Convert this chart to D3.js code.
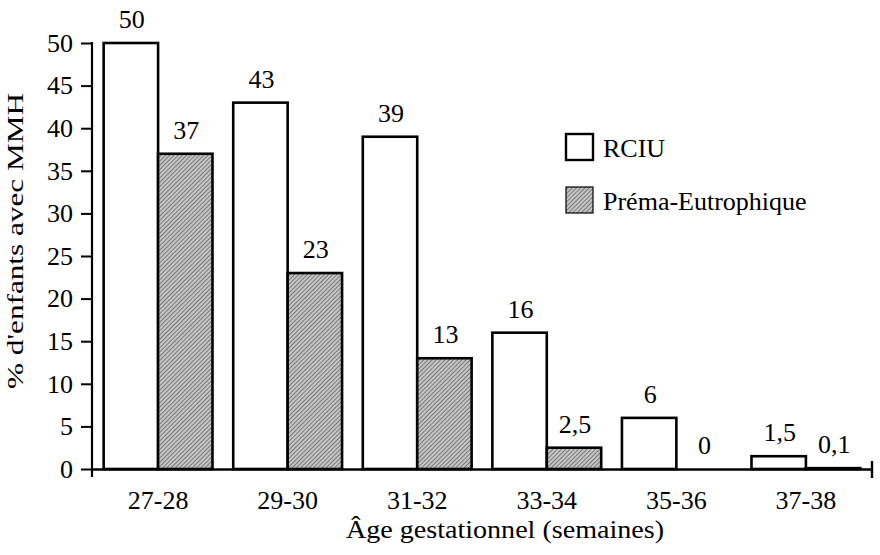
<!DOCTYPE html>
<html>
<head>
<meta charset="utf-8">
<script src="https://cdn.jsdelivr.net/npm/d3@7"></script>
<style>
  html, body { margin: 0; padding: 0; background: #fff; }
  svg { display: block; }
</style>
</head>
<body>
<div id="chart"></div>
<script>
const categories = ["27-28", "29-30", "31-32", "33-34", "35-36", "37-38"];
const rciuValues = [50, 43, 39, 16, 6, 1.5];
const premaValues = [37, 23, 13, 2.5, 0, 0.1];
const seriesNames = ["RCIU", "Préma-Eutrophique"];
const yTicks = [0, 5, 10, 15, 20, 25, 30, 35, 40, 45, 50];
const xTitle = "Âge gestationnel (semaines)";
const yTitle = "% d'enfants avec MMH";

const FONT = '"Liberation Serif"';
const W = 880, H = 555;
const svg = d3.select("#chart").append("svg").attr("width", W).attr("height", H);

const defs = svg.append("defs");
const pat = defs.append("pattern")
  .attr("id", "hatch").attr("patternUnits", "userSpaceOnUse")
  .attr("width", 3).attr("height", 3)
  .attr("patternTransform", "rotate(45)");
pat.append("rect").attr("width", 3).attr("height", 3).attr("fill", "#c6c6c6");
pat.append("rect").attr("width", 1).attr("height", 3).attr("fill", "#777");

const x0 = d3.scaleBand().domain(categories).range([92, 872])
  .paddingInner(0.16).paddingOuter(0.09);
const x1 = d3.scaleBand().domain(seriesNames).range([0, x0.bandwidth()]);
const y = d3.scaleLinear().domain([0, 50]).range([469, 43]);
const color = { "RCIU": "#ffffff", "Préma-Eutrophique": "url(#hatch)" };

const fmt = v => String(v).replace(".", ",");

const data = categories.map((c, i) => ({
  cat: c,
  vals: [
    { s: seriesNames[0], v: rciuValues[i] },
    { s: seriesNames[1], v: premaValues[i] }
  ]
}));

// bars
const g = svg.append("g");
const groups = g.selectAll("g.grp").data(data).join("g")
  .attr("class", "grp")
  .attr("transform", d => `translate(${x0(d.cat)},0)`);

groups.selectAll("rect").data(d => d.vals.filter(e => e.v > 0)).join("rect")
  .attr("x", e => x1(e.s))
  .attr("y", e => y(e.v))
  .attr("width", x1.bandwidth())
  .attr("height", e => y(0) - y(e.v))
  .attr("fill", e => color[e.s])
  .attr("stroke", "#000")
  .attr("stroke-width", 2.6);

groups.selectAll("text").data(d => d.vals).join("text")
  .attr("x", e => x1(e.s) + x1.bandwidth() / 2 + 1)
  .attr("y", e => y(e.v) - 15)
  .attr("text-anchor", "middle")
  .attr("font-size", 26)
  .style("font-family", FONT)
  .attr("fill", "#000")
  .text(e => fmt(e.v));

// y axis
const yAxis = d3.axisLeft(y).tickValues(yTicks).tickSize(11).tickSizeOuter(0).tickPadding(8);
const ya = svg.append("g").attr("transform", "translate(92,0)").call(yAxis);
ya.attr("font-family", null);
ya.select(".domain").remove();
ya.selectAll(".tick line").attr("stroke", "#000").attr("stroke-width", 2);
ya.selectAll(".tick text").attr("font-size", 26).style("font-family", FONT).attr("fill", "#000");
svg.append("line").attr("x1", 92).attr("x2", 92).attr("y1", y(50) - 1).attr("y2", y(0) + 8)
  .attr("stroke", "#000").attr("stroke-width", 2.2);

// x axis
const xAxis = d3.axisBottom(x0).tickSize(0).tickSizeOuter(0).tickPadding(22);
const xa = svg.append("g").attr("transform", `translate(0,${y(0)})`).call(xAxis);
xa.attr("font-family", null);
xa.select(".domain").attr("stroke", "#000").attr("stroke-width", 2.4);
xa.selectAll(".tick text").attr("font-size", 26).style("font-family", FONT).attr("fill", "#000");
svg.append("line").attr("x1", 872).attr("x2", 872).attr("y1", y(0) - 8).attr("y2", y(0) + 9)
  .attr("stroke", "#000").attr("stroke-width", 2.4);

// titles
svg.append("text").attr("x", 505).attr("y", 538).attr("text-anchor", "middle")
  .attr("font-size", 25).style("font-family", FONT)
  .attr("textLength", 318).attr("lengthAdjust", "spacingAndGlyphs")
  .text(xTitle);
svg.append("text").attr("transform", "translate(23,241) rotate(-90)").attr("text-anchor", "middle")
  .attr("font-size", 24).style("font-family", FONT)
  .attr("textLength", 296).attr("lengthAdjust", "spacingAndGlyphs")
  .text(yTitle);

// legend
const leg = svg.append("g").attr("transform", "translate(566,134)");
seriesNames.forEach((s, i) => {
  const ly = i * 53;
  leg.append("rect").attr("x", 0).attr("y", ly).attr("width", 27).attr("height", 26)
    .attr("fill", color[s]).attr("stroke", "#000").attr("stroke-width", i === 0 ? 2.4 : 1.2);
  leg.append("text").attr("x", 37).attr("y", ly + 23).attr("font-size", 26)
    .style("font-family", FONT).text(s);
});
</script>
</body>
</html>
